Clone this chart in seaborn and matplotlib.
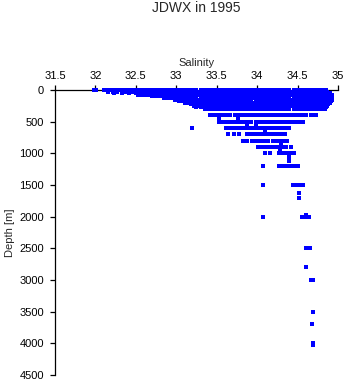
import matplotlib
matplotlib.use("Agg")
import matplotlib.pyplot as plt
import seaborn as sns
import pandas as pd
from matplotlib.markers import MarkerStyle

sal_0000 = [31.98, 32.01, 32.10, 32.15, 32.20, 32.25, 32.30, 32.35, 32.40, 32.45, 32.50, 32.55, 32.60,
            32.65, 32.70, 32.75, 32.80, 32.85, 32.90, 32.95, 33.00, 33.05, 33.10, 33.15, 33.20, 33.25,
            33.30, 33.35, 33.40, 33.45, 33.50, 33.55, 33.60, 33.65, 33.70, 33.75, 33.80, 33.85, 33.90,
            33.95, 34.00, 34.05, 34.10, 34.15, 34.20, 34.25, 34.30, 34.35, 34.40, 34.45, 34.50, 34.55,
            34.60, 34.65, 34.70, 34.75, 34.80, 34.85]
sal_0025 = [32.15, 32.22, 32.27, 32.34, 32.39, 32.44, 32.49, 32.54, 32.59, 32.64, 32.69, 32.74, 32.79,
            32.84, 32.89, 32.94, 32.99, 33.04, 33.09, 33.14, 33.19, 33.24, 33.29, 33.34, 33.39, 33.44,
            33.49, 33.54, 33.59, 33.64, 33.69, 33.74, 33.79, 33.84, 33.89, 33.94, 33.99, 34.04, 34.09,
            34.14, 34.19, 34.24, 34.29, 34.34, 34.39, 34.44, 34.49, 34.54, 34.59, 34.64, 34.69, 34.74,
            34.79, 34.84, 34.87]
sal_0050 = [32.23, 32.33, 32.42, 32.50, 32.55, 32.61, 32.66, 32.71, 32.76, 32.81, 32.86, 32.91, 32.96,
            33.01, 33.06, 33.11, 33.16, 33.21, 33.26, 33.31, 33.36, 33.41, 33.46, 33.51, 33.56, 33.61,
            33.66, 33.71, 33.76, 33.81, 33.86, 33.91, 33.96, 34.01, 34.06, 34.11, 34.16, 34.21, 34.26,
            34.31, 34.36, 34.41, 34.46, 34.51, 34.56, 34.61, 34.66, 34.71, 34.76, 34.81, 34.86, 34.90]
sal_0075 = [32.53, 32.58, 32.63, 32.68, 32.73, 32.78, 32.83, 32.88, 32.93, 32.98, 33.03, 33.08, 33.13,
            33.18, 33.23, 33.28, 33.33, 33.38, 33.43, 33.48, 33.53, 33.58, 33.63, 33.68, 33.73, 33.78,
            33.83, 33.88, 33.93, 33.98, 34.03, 34.08, 34.13, 34.18, 34.23, 34.28, 34.33, 34.38, 34.43,
            34.48, 34.53, 34.58, 34.63, 34.68, 34.73, 34.78, 34.83, 34.88, 34.92]
sal_0100 = [32.70, 32.75, 32.80, 32.85, 32.90, 32.95, 33.00, 33.05, 33.10, 33.15, 33.20, 33.25, 33.30,
            33.35, 33.40, 33.45, 33.50, 33.55, 33.60, 33.65, 33.70, 33.75, 33.80, 33.85, 33.90, 33.95,
            34.00, 34.05, 34.10, 34.15, 34.20, 34.25, 34.30, 34.35, 34.40, 34.45, 34.50, 34.55, 34.60,
            34.65, 34.70, 34.75, 34.80, 34.85, 34.90, 34.93]
sal_0125 = [32.85, 32.90, 32.95, 33.00, 33.05, 33.10, 33.15, 33.20, 33.25, 33.30, 33.35, 33.40, 33.45,
            33.50, 33.55, 33.60, 33.65, 33.70, 33.75, 33.80, 33.85, 33.90, 33.95, 34.00, 34.05, 34.10,
            34.15, 34.20, 34.25, 34.30, 34.35, 34.40, 34.45, 34.50, 34.55, 34.60, 34.65, 34.70, 34.75,
            34.80, 34.85, 34.90, 34.93]
sal_0150 = [32.98, 33.03, 33.08, 33.13, 33.18, 33.23, 33.28, 33.33, 33.38, 33.43, 33.48, 33.53, 33.58,
            33.63, 33.68, 33.73, 33.78, 33.83, 33.88, 33.93, 33.98, 34.03, 34.08, 34.13, 34.18, 34.23,
            34.28, 34.33, 34.38, 34.43, 34.48, 34.53, 34.58, 34.63, 34.68, 34.73, 34.78, 34.83, 34.88,
            34.92]
sal_0175 = [33.03, 33.08, 33.13, 33.18, 33.23, 33.28, 33.33, 33.38, 33.43, 33.48, 33.53, 33.58, 33.63,
            33.68, 33.73, 33.78, 33.83, 33.88, 33.93, 33.98, 34.03, 34.08, 34.13, 34.18, 34.23, 34.28,
            34.33, 34.38, 34.43, 34.48, 34.53, 34.58, 34.63, 34.68, 34.73, 34.78, 34.83, 34.88, 34.91]
sal_0200 = [33.11, 33.16, 33.21, 33.26, 33.31, 33.36, 33.41, 33.46, 33.51, 33.56, 33.61, 33.66, 33.71,
            33.76, 33.81, 33.86, 33.91, 33.96, 34.01, 34.06, 34.11, 34.16, 34.21, 34.26, 34.31, 34.36,
            34.41, 34.46, 34.51, 34.56, 34.61, 34.66, 34.71, 34.76, 34.81, 34.86, 34.90]
sal_0225 = [33.18, 33.23, 33.28, 33.33, 33.38, 33.43, 33.48, 33.53, 33.58, 33.63, 33.68, 33.73, 33.78,
            33.83, 33.88, 33.93, 33.98, 34.03, 34.08, 34.13, 34.18, 34.23, 34.28, 34.33, 34.38, 34.43,
            34.48, 34.53, 34.58, 34.63, 34.68, 34.73, 34.78, 34.83, 34.88]
sal_0250 = [33.22, 33.27, 33.32, 33.37, 33.42, 33.47, 33.52, 33.57, 33.62, 33.67, 33.72, 33.77, 33.82,
            33.87, 33.92, 33.97, 34.02, 34.07, 34.12, 34.17, 34.22, 34.27, 34.32, 34.37, 34.42, 34.47,
            34.52, 34.57, 34.62, 34.67, 34.72, 34.77, 34.82, 34.87]
sal_0275 = [33.25, 33.30, 33.35, 33.40, 33.45, 33.50, 33.55, 33.60, 33.65, 33.70, 33.75, 33.80, 33.85,
            33.90, 33.95, 34.00, 34.05, 34.10, 34.15, 34.20, 34.25, 34.30, 34.35, 34.40, 34.45, 34.50,
            34.55, 34.60, 34.65, 34.70, 34.75, 34.80, 34.85]
sal_0300 = [33.35, 33.40, 33.45, 33.50, 33.55, 33.60, 33.65, 33.70, 33.75, 33.80, 33.85, 33.90, 33.95,
            34.00, 34.05, 34.10, 34.15, 34.20, 34.25, 34.30, 34.35, 34.40, 34.45, 34.50, 34.55, 34.60,
            34.65, 34.70, 34.75, 34.80, 34.84]
sal_0400 = [33.42, 33.47, 33.52, 33.57, 33.62, 33.67, 33.72, 33.77, 33.82, 33.87, 33.92, 33.97, 34.02,
            34.07, 34.12, 34.17, 34.22, 34.27, 34.32, 34.37, 34.42, 34.47, 34.50, 34.56, 34.61, 34.66,
            34.71, 34.73]
sal_0500 = [33.53, 33.58, 33.63, 33.68, 33.73, 33.78, 33.83, 33.88, 33.93, 33.98, 34.03, 34.08, 34.13,
            34.18, 34.23, 34.28, 34.33, 34.38, 34.43, 34.48, 34.53, 34.57]
sal_0600 = [33.19, 33.61, 33.66, 33.71, 33.76, 33.81, 33.86, 33.91, 33.96, 34.01, 34.06, 34.11, 34.16,
            34.21, 34.26, 34.31, 34.36, 34.40]
sal_0700 = [33.64, 33.71, 33.77, 33.87, 33.92, 33.97, 34.02, 34.07, 34.12, 34.17, 34.22, 34.27, 34.32,
            34.34]
sal_0800 = [33.82, 33.87, 33.94, 33.99, 34.04, 34.09, 34.14, 34.19, 34.24, 34.29, 34.34, 34.37]
sal_0900 = [34.01, 34.06, 34.11, 34.16, 34.21, 34.26, 34.31, 34.36, 34.42]
sal_1000 = [34.10, 34.16, 34.27, 34.32, 34.37, 34.42, 34.46]
sal_1200 = [34.07, 34.27, 34.32, 34.37, 34.42, 34.47, 34.50]
sal_1500 = [34.07, 34.44, 34.49, 34.54, 34.57]
sal_2000 = [34.07, 34.55, 34.60, 34.64]
sal_2500 = [34.60, 34.65]
sal_3000 = [34.67, 34.69]
sal_3500 = [34.69]
sal_4000 = [34.69]

# scattered readings between the standard levels
extra_depth = [440, 440, 550, 550, 650, 840, 930, 1030, 1060, 1090, 1120, 1630, 1710,
               1980, 2490, 2800, 3700, 4030]
extra_sal = [33.53, 33.76, 33.88, 33.98, 34.10, 34.29, 34.28, 34.39, 34.39, 34.39, 34.39, 34.52, 34.52,
             34.60, 34.65, 34.61, 34.68, 34.69]

levels = {0: sal_0000, 25: sal_0025, 50: sal_0050, 75: sal_0075, 100: sal_0100, 125: sal_0125,
          150: sal_0150, 175: sal_0175, 200: sal_0200, 225: sal_0225, 250: sal_0250, 275: sal_0275,
          300: sal_0300, 400: sal_0400, 500: sal_0500, 600: sal_0600, 700: sal_0700, 800: sal_0800,
          900: sal_0900, 1000: sal_1000, 1200: sal_1200, 1500: sal_1500, 2000: sal_2000,
          2500: sal_2500, 3000: sal_3000, 3500: sal_3500, 4000: sal_4000}

x_ticks = [31.5, 32, 32.5, 33, 33.5, 34, 34.5, 35]
x_labels = ["31.5", "32", "32.5", "33", "33.5", "34", "34.5", "35"]
y_ticks = [0, 500, 1000, 1500, 2000, 2500, 3000, 3500, 4000, 4500]

rows = []
for d, vals in levels.items():
    for s in vals:
        rows.append((s, d))
for d, s in zip(extra_depth, extra_sal):
    rows.append((s, d))
df = pd.DataFrame(rows, columns=["Salinity", "Depth"])

# ---------------- plot -------------
sns.set_style("ticks")
plt.rcParams["font.family"] = ["Liberation Sans", "DejaVu Sans"]

fig = plt.figure(figsize=(3.48, 3.84), dpi=100)
ax = fig.add_axes([55 / 348, 9 / 384, 283 / 348, 285 / 384])

rect = MarkerStyle([(-1.5, -1), (1.5, -1), (1.5, 1), (-1.5, 1), (-1.5, -1)])
sns.scatterplot(data=df, x="Salinity", y="Depth", ax=ax, color="#0000ff", marker=rect,
                s=11, linewidth=0, clip_on=False, zorder=3, legend=False, antialiased=False)

ax.set_xlim(31.5, 35)
ax.set_ylim(4500, 0)
ax.xaxis.tick_top()
ax.xaxis.set_label_position("top")
ax.set_xticks(x_ticks)
ax.set_xticklabels(x_labels)
ax.set_yticks(y_ticks)
ax.set_xlabel("Salinity", fontsize=8, labelpad=3)
ax.set_ylabel("Depth [m]", fontsize=8, labelpad=3)
ax.tick_params(axis="x", direction="out", length=3.6, width=0.9, pad=3.2, labelsize=8,
               colors="black")
ax.tick_params(axis="y", direction="out", length=3.6, width=0.9, pad=4.5, labelsize=8,
               colors="black")
for side in ["right", "bottom"]:
    ax.spines[side].set_visible(False)
for side in ["top", "left"]:
    ax.spines[side].set_linewidth(0.9)
    ax.spines[side].set_color("black")
ax.grid(False)

fig.text(196.5 / 348, 1 - 8.5 / 384, "JDWX in 1995", ha="center", va="center", fontsize=10)

fig.savefig("out.png", dpi=100)
